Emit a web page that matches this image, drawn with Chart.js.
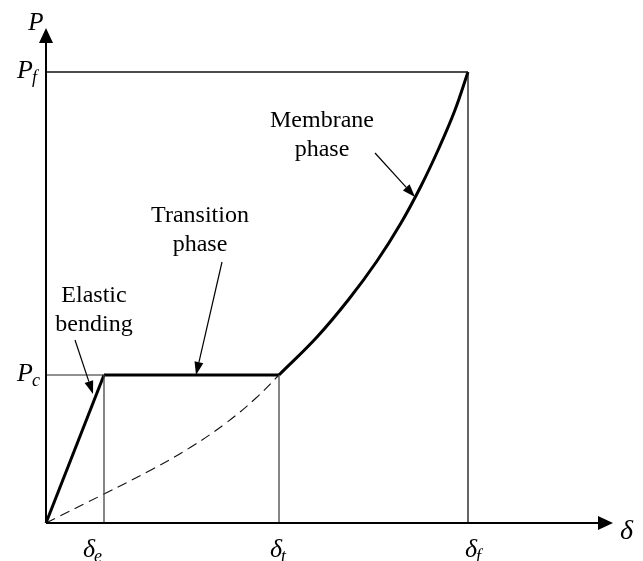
<!DOCTYPE html>
<html>
<head>
<meta charset="utf-8">
<title>P - delta</title>
<script src="https://cdn.jsdelivr.net/npm/chart.js@4.4.1/dist/chart.umd.min.js"></script>
<style>
  html, body { margin: 0; padding: 0; background: #fff; }
  canvas { display: block; }
</style>
</head>
<body>
<canvas id="grafico" width="643" height="561"></canvas>
<script>
// valores (unidades arbitrarias)
const deltaE = 5.8;   // fin de flexion elastica
const deltaT = 23.3;  // fin de transicion
const deltaF = 42.2;  // falla
const cargaC = 14.8;  // Pc
const cargaF = 45.1;  // Pf
const ejeXMax = 56.7;
const ejeYMax = 49.5;

const membranaX = [23.3, 27.1, 30.3, 33.1, 35.5, 37.5, 39.3, 40.9, 42.2];
const membranaY = [14.8, 18.6, 22.4, 26.2, 30.0, 33.7, 37.5, 41.3, 45.1];

const punteadaX = [0, 5.8, 10.5, 14.5, 18.0, 21.0, 23.3];
const punteadaY = [0, 2.9, 5.3, 7.6, 10.0, 12.5, 14.8];

const etiquetasX = [["δ", "e"], ["δ", "t"], ["δ", "f"]];
const valoresX = [deltaE, deltaT, deltaF];
const etiquetasY = [["P", "c"], ["P", "f"]];
const valoresY = [cargaC, cargaF];

// notas: texto, ancla en unidades de datos, y la flecha (desde -> punta)
const notas = [
  { lineas: ["Elastic", "bending"], x: 4.8, y: 22.1, desde: [2.9, 18.3], hasta: [4.7, 12.9] },
  { lineas: ["Transition", "phase"], x: 15.4, y: 30.1, desde: [17.6, 26.1], hasta: [15.0, 14.8] },
  { lineas: ["Membrane", "phase"], x: 27.6, y: 39.6, desde: [32.9, 37.0], hasta: [36.9, 32.6] }
];

function puntos(xs, ys) {
  return xs.map((v, i) => ({ x: v, y: ys[i] }));
}

function linea(datos, ancho, color, extra) {
  return Object.assign({
    data: datos,
    showLine: true,
    borderColor: color,
    borderWidth: ancho,
    pointRadius: 0,
    fill: false,
    clip: false
  }, extra || {});
}

const datasets = [
  // lineas finas de referencia
  linea([{ x: 0, y: cargaF }, { x: deltaF, y: cargaF }], 1.3, "#111"),
  linea([{ x: deltaF, y: 0 }, { x: deltaF, y: cargaF }], 1.3, "#111"),
  linea([{ x: 0, y: cargaC }, { x: deltaE, y: cargaC }], 1, "#222"),
  linea([{ x: deltaE, y: 0 }, { x: deltaE, y: cargaC }], 1.3, "#444"),
  linea([{ x: deltaT, y: 0 }, { x: deltaT, y: cargaC }], 1.3, "#444"),
  // curva punteada
  linea(puntos(punteadaX, punteadaY), 1.1, "#111", { borderDash: [10, 6], tension: 0.4 }),
  // curva principal
  linea([{ x: 0, y: 0 }, { x: deltaE, y: cargaC }], 3, "#000"),
  linea([{ x: deltaE, y: cargaC }, { x: deltaT, y: cargaC }], 3, "#000"),
  linea(puntos(membranaX, membranaY), 3, "#000", { tension: 0.4 })
];

function flecha(ctx, x1, y1, x2, y2) {
  const ang = Math.atan2(y2 - y1, x2 - x1);
  const largo = 13, medio = 4.5;
  ctx.beginPath();
  ctx.moveTo(x1, y1);
  ctx.lineTo(x2 - largo * Math.cos(ang), y2 - largo * Math.sin(ang));
  ctx.lineWidth = 1.2;
  ctx.stroke();
  ctx.beginPath();
  ctx.moveTo(x2, y2);
  ctx.lineTo(x2 - largo * Math.cos(ang) + medio * Math.sin(ang), y2 - largo * Math.sin(ang) - medio * Math.cos(ang));
  ctx.lineTo(x2 - largo * Math.cos(ang) - medio * Math.sin(ang), y2 - largo * Math.sin(ang) + medio * Math.cos(ang));
  ctx.closePath();
  ctx.fill();
}

// texto con subindice, 'x' es el borde izquierdo
function conSubindice(ctx, principal, sub, x, base, tam) {
  ctx.textAlign = "left";
  ctx.font = "italic " + tam + "px 'Liberation Serif'";
  ctx.fillText(principal, x, base);
  const w = ctx.measureText(principal).width;
  ctx.font = "italic " + Math.round(tam * 0.7) + "px 'Liberation Serif'";
  ctx.fillText(sub, x + w - 1, base + 5);
}

const figura = {
  id: "figura",
  beforeDraw(chart) {
    const ctx = chart.ctx;
    ctx.save();
    ctx.fillStyle = "#fff";
    ctx.fillRect(0, 0, chart.width, chart.height);
    ctx.restore();
  },
  afterDatasetsDraw(chart) {
    const ctx = chart.ctx;
    const sx = chart.scales.x, sy = chart.scales.y;
    const ox = sx.getPixelForValue(0), oy = sy.getPixelForValue(0);
    const xFin = sx.getPixelForValue(ejeXMax), yFin = sy.getPixelForValue(ejeYMax);
    ctx.save();
    ctx.strokeStyle = "#000";
    ctx.fillStyle = "#000";

    // ejes con punta de flecha
    ctx.lineWidth = 2;
    ctx.beginPath();
    ctx.moveTo(ox, oy); ctx.lineTo(ox, yFin + 14);
    ctx.moveTo(ox, oy); ctx.lineTo(xFin - 14, oy);
    ctx.stroke();
    ctx.beginPath();
    ctx.moveTo(ox, yFin); ctx.lineTo(ox - 7, yFin + 15); ctx.lineTo(ox + 7, yFin + 15);
    ctx.closePath(); ctx.fill();
    ctx.beginPath();
    ctx.moveTo(xFin, oy); ctx.lineTo(xFin - 15, oy - 7); ctx.lineTo(xFin - 15, oy + 7);
    ctx.closePath(); ctx.fill();

    ctx.textBaseline = "alphabetic";
    ctx.font = "italic 25px 'Liberation Serif'";
    ctx.textAlign = "center";
    ctx.fillText("P", ox - 10, yFin + 2);
    ctx.textAlign = "left";
    ctx.font = "italic 28px 'Liberation Serif'";
    ctx.fillText("δ", xFin + 7, oy + 16);

    // etiquetas de los ejes
    const corrX = [-21, -9, -3];
    etiquetasX.forEach((et, i) => {
      const px = sx.getPixelForValue(valoresX[i]);
      conSubindice(ctx, et[0], et[1], px + corrX[i], oy + 34, 26);
    });
    const corrY = [6, 6];
    etiquetasY.forEach((et, i) => {
      const py = sy.getPixelForValue(valoresY[i]);
      conSubindice(ctx, et[0], et[1], ox - 29, py + corrY[i], 26);
    });

    // notas con flechas
    notas.forEach(n => {
      ctx.font = "24px 'Liberation Serif'";
      ctx.textAlign = "center";
      const px = sx.getPixelForValue(n.x), py = sy.getPixelForValue(n.y);
      n.lineas.forEach((t, k) => ctx.fillText(t, px, py + k * 29));
      flecha(ctx,
        sx.getPixelForValue(n.desde[0]), sy.getPixelForValue(n.desde[1]),
        sx.getPixelForValue(n.hasta[0]), sy.getPixelForValue(n.hasta[1]));
    });
    ctx.restore();
  }
};

new Chart(document.getElementById("grafico"), {
  type: "scatter",
  data: { datasets: datasets },
  options: {
    responsive: false,
    animation: false,
    layout: { padding: { left: 46, right: 30, top: 28, bottom: 38 } },
    scales: {
      x: { type: "linear", display: false, min: 0, max: ejeXMax },
      y: { type: "linear", display: false, min: 0, max: ejeYMax }
    },
    plugins: { legend: { display: false }, tooltip: { enabled: false } }
  },
  plugins: [figura]
});
</script>
</body>
</html>
